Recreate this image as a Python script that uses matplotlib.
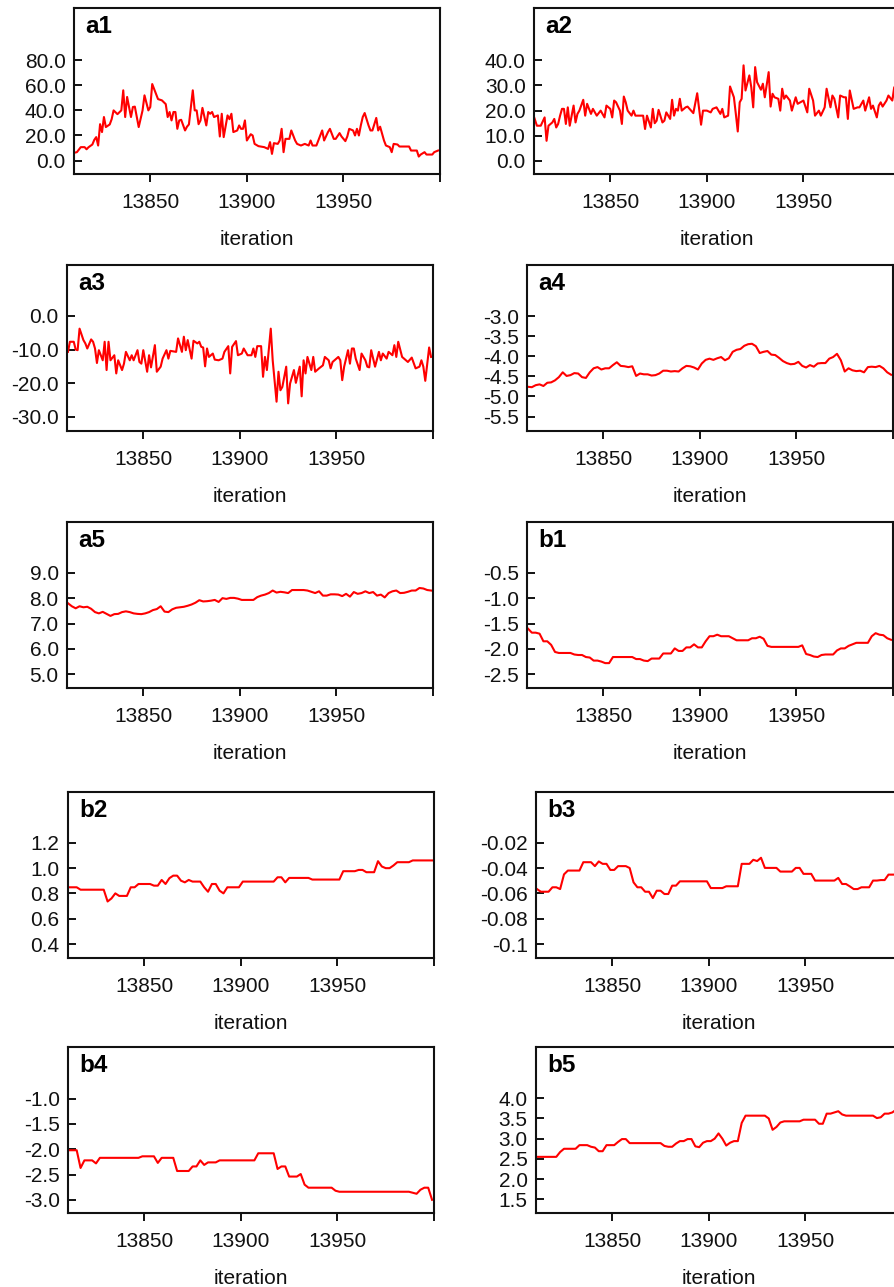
import numpy as np
import matplotlib
matplotlib.use("Agg")
import matplotlib.pyplot as plt

plt.rcParams["font.family"] = ["Liberation Sans", "DejaVu Sans"]

# noisy traces (a1-a3): iteration and value pairs
a1_it = [13810, 13812, 13814, 13816, 13817, 13818, 13820, 13821, 13822, 13823,
         13824, 13825, 13826, 13827, 13829, 13830, 13831, 13833, 13835, 13836,
         13837, 13838, 13840, 13841, 13842, 13844, 13846, 13847, 13849, 13850,
         13851, 13853, 13854, 13856, 13858, 13859, 13860, 13861, 13862, 13863,
         13864, 13865, 13866, 13868, 13869, 13870, 13872, 13873, 13874, 13875,
         13876, 13877, 13879, 13880, 13881, 13882, 13883, 13885, 13886, 13887,
         13888, 13890, 13891, 13892, 13893, 13895, 13896, 13897, 13898, 13899,
         13900, 13902, 13903, 13904, 13906, 13909, 13911, 13912, 13913, 13914,
         13916, 13917, 13918, 13919, 13920, 13922, 13923, 13925, 13926, 13928,
         13930, 13932, 13933, 13934, 13936, 13937, 13939, 13940, 13942, 13943,
         13945, 13946, 13948, 13949, 13951, 13952, 13953, 13955, 13956, 13957,
         13958, 13959, 13960, 13961, 13963, 13964, 13965, 13967, 13968, 13969,
         13971, 13972, 13974, 13975, 13976, 13978, 13979, 13984, 13985, 13988,
         13989, 13990, 13992, 13993, 13996, 13997, 13999]
a1 = [6, 6.7, 10.7, 10.7, 9, 10.6, 12.8, 16.5, 18.7, 12,
      29, 22.7, 34.7, 26.7, 28.8, 33, 40, 37, 40, 56,
      34.7, 50.7, 34.7, 42.7, 43, 26.7, 40, 52, 40, 42.7,
      61, 53, 49, 48, 45, 34.7, 38.7, 32, 38.7, 38.7,
      25.3, 32, 32.5, 24, 27, 28.8, 56, 40, 40, 29,
      32, 42, 28, 38.7, 37.3, 38.7, 34.7, 36, 19.2, 37.3,
      18.7, 36, 33, 37.3, 22.7, 24, 28, 25.3, 25.3, 32,
      16, 21, 20, 13.3, 11.5, 10.7, 9.3, 14.7, 5.3, 13.9,
      13.3, 16, 25.3, 6.7, 17.3, 17.3, 24, 16, 13.3, 12,
      13.3, 12, 16, 12, 12, 16, 24, 16, 22.7, 25.3,
      17.3, 17.3, 21.9, 19.2, 15.5, 19.2, 25.3, 24, 20, 25.3,
      20, 28, 34.7, 37.9, 28, 24, 24, 34, 24, 27,
      16, 12, 10.7, 6.7, 13.3, 12.8, 11.2, 11.2, 8, 8,
      3.2, 4.8, 6.7, 4.8, 4.8, 6.7, 8]

a2_it = [13810, 13812, 13814, 13816, 13817, 13818, 13820, 13821, 13822, 13823,
         13824, 13825, 13826, 13827, 13828, 13829, 13831, 13832, 13833, 13834,
         13836, 13837, 13838, 13840, 13841, 13843, 13845, 13847, 13848, 13850,
         13851, 13852, 13853, 13855, 13856, 13857, 13858, 13859, 13861, 13862,
         13863, 13865, 13867, 13868, 13869, 13871, 13872, 13873, 13874, 13875,
         13877, 13878, 13879, 13881, 13882, 13883, 13884, 13885, 13886, 13887,
         13889, 13890, 13893, 13895, 13897, 13898, 13900, 13902, 13903, 13905,
         13907, 13908, 13909, 13911, 13912, 13914, 13915, 13916, 13917, 13918,
         13919, 13920, 13922, 13923, 13924, 13925, 13926, 13928, 13929, 13930,
         13932, 13933, 13934, 13935, 13937, 13938, 13939, 13940, 13941, 13943,
         13944, 13946, 13947, 13950, 13952, 13953, 13955, 13956, 13958, 13959,
         13961, 13962, 13964, 13965, 13966, 13968, 13969, 13971, 13972, 13973,
         13974, 13976, 13978, 13979, 13981, 13982, 13984, 13985, 13986, 13988,
         13989, 13990, 13991, 13993, 13994, 13996, 13997, 13998]
a2 = [18.7, 14, 14, 17.3, 8, 14, 15.3, 16.7, 13.3, 14.7,
      18, 20.7, 20.7, 14.7, 21.3, 14, 22, 15.3, 18.7, 20,
      24.3, 18, 22.7, 18.7, 20.7, 18, 20, 17.3, 22, 20.7,
      17.3, 24, 23.3, 20, 14.7, 25.6, 23.3, 20, 18, 20,
      18, 18, 18, 12.7, 18, 13.3, 20.7, 15, 16, 20.3,
      15.3, 16, 19.3, 16.7, 24.3, 18, 20.7, 20, 24.7, 20,
      21.3, 21.6, 19, 26.9, 14.4, 20, 20, 19.3, 20.7, 21.3,
      18.7, 20.7, 17.3, 18, 29.6, 25.3, 18.7, 11.7, 23.3, 24.7,
      38, 28, 34, 29.3, 21.3, 37.3, 31.3, 28.3, 30.7, 25.3,
      35.3, 21.6, 26.7, 25.3, 24.7, 20, 28.7, 24.7, 26, 24,
      20, 25.3, 22.7, 24, 19.3, 28.7, 24, 18, 20, 18,
      21.3, 28.7, 21.3, 26, 24.7, 17.3, 26, 25.3, 25.3, 16.7,
      28, 20.7, 21.3, 21.3, 24, 20, 25.3, 20.7, 22, 17.3,
      22, 23.3, 21.6, 24, 26, 24, 29.3, 18]

a3_it = [13811, 13812, 13814, 13815, 13816, 13817, 13819, 13820, 13821, 13823,
         13824, 13825, 13826, 13827, 13829, 13830, 13831, 13832, 13833, 13835,
         13836, 13837, 13839, 13840, 13841, 13843, 13844, 13845, 13847, 13848,
         13849, 13850, 13852, 13853, 13854, 13856, 13857, 13859, 13860, 13862,
         13863, 13864, 13867, 13868, 13870, 13871, 13872, 13873, 13875, 13876,
         13878, 13879, 13880, 13881, 13882, 13883, 13884, 13886, 13887, 13889,
         13891, 13892, 13894, 13895, 13896, 13898, 13899, 13901, 13902, 13904,
         13906, 13907, 13908, 13909, 13911, 13912, 13913, 13914, 13916, 13917,
         13919, 13920, 13921, 13922, 13924, 13925, 13926, 13928, 13929, 13931,
         13932, 13933, 13934, 13935, 13937, 13938, 13939, 13941, 13943, 13944,
         13946, 13947, 13948, 13951, 13952, 13953, 13954, 13956, 13957, 13958,
         13959, 13960, 13962, 13963, 13965, 13966, 13967, 13968, 13970, 13972,
         13973, 13974, 13976, 13977, 13979, 13980, 13981, 13982, 13984, 13985,
         13987, 13989, 13991, 13993, 13994, 13995, 13996, 13998, 13999]
a3 = [-10.7, -7.7, -7.7, -10, -10.2, -3.8, -7.2, -8.2, -9.7, -7,
      -7.7, -9.7, -14, -10.2, -13.2, -7.7, -16.1, -7.7, -13.2, -11.7,
      -17.1, -13.2, -16.1, -14.2, -10.7, -13.2, -11.7, -13.2, -10.2, -13.7,
      -14.2, -10.2, -16.6, -11.7, -15.3, -8.7, -16.6, -15.1, -12.7, -10.2,
      -12.7, -10.4, -10.7, -6.7, -10.7, -6.2, -10.2, -7.2, -12.7, -7.4,
      -8.2, -7.7, -9.2, -9.4, -15, -9.7, -12.2, -11.2, -13, -13.2,
      -12.7, -10.7, -9, -17.1, -9.2, -7.5, -11.7, -11.2, -9.7, -11.7,
      -11.7, -9.7, -12.2, -9, -9, -18.1, -12.2, -16.1, -3.8, -13.2,
      -25.5, -16.6, -22.1, -21.1, -15.1, -26, -20.1, -16.1, -19.9, -15.1,
      -23.9, -13.2, -17.1, -12.2, -16.1, -12.2, -16.6, -15.6, -14.7, -12.2,
      -13.2, -15.6, -13.7, -12.2, -13.2, -19.1, -15.1, -10.2, -14.2, -9.7,
      -9.7, -12.7, -16.1, -11.2, -13.2, -15.1, -15.3, -10.2, -15.1, -10.7,
      -13.2, -11.2, -12.7, -10.7, -11.7, -8.7, -12.2, -7.7, -12.2, -12.7,
      -13.7, -12.4, -15.6, -15.1, -13.2, -15.1, -19.3, -9.4, -12.2]

# smoother traces: one value every second iteration, 13811 ... 13999
iteration = np.arange(13811, 14000, 2)

a4 = [-4.76, -4.77, -4.72, -4.70, -4.74, -4.66, -4.65, -4.60, -4.52, -4.40,
      -4.49, -4.47, -4.42, -4.43, -4.52, -4.54, -4.40, -4.30, -4.27, -4.33,
      -4.30, -4.30, -4.22, -4.15, -4.24, -4.25, -4.27, -4.25, -4.49, -4.43,
      -4.45, -4.45, -4.48, -4.47, -4.43, -4.36, -4.36, -4.38, -4.37, -4.38,
      -4.30, -4.24, -4.25, -4.28, -4.33, -4.18, -4.09, -4.06, -4.09, -4.05,
      -4.02, -4.10, -4.05, -3.89, -3.84, -3.82, -3.74, -3.70, -3.69, -3.75,
      -3.92, -3.89, -3.87, -3.96, -3.97, -4.04, -4.12, -4.17, -4.20, -4.19,
      -4.14, -4.24, -4.28, -4.22, -4.26, -4.18, -4.17, -4.17, -4.06, -4.02,
      -3.94, -4.10, -4.38, -4.30, -4.35, -4.37, -4.36, -4.40, -4.27, -4.26,
      -4.27, -4.24, -4.30, -4.40, -4.46]

a5 = [7.80, 7.68, 7.60, 7.68, 7.64, 7.66, 7.58, 7.45, 7.40, 7.46,
      7.38, 7.30, 7.37, 7.38, 7.45, 7.48, 7.45, 7.40, 7.38, 7.37,
      7.40, 7.45, 7.53, 7.57, 7.68, 7.47, 7.45, 7.56, 7.62, 7.64,
      7.66, 7.70, 7.75, 7.82, 7.92, 7.87, 7.88, 7.90, 7.93, 7.85,
      8.00, 7.97, 8.01, 8.01, 7.98, 7.93, 7.93, 7.93, 7.93, 8.04,
      8.10, 8.14, 8.20, 8.30, 8.22, 8.25, 8.23, 8.20, 8.32, 8.32,
      8.32, 8.32, 8.30, 8.25, 8.20, 8.27, 8.10, 8.10, 8.15, 8.15,
      8.14, 8.08, 8.17, 8.06, 8.24, 8.17, 8.20, 8.27, 8.20, 8.24,
      8.10, 8.14, 8.03, 8.20, 8.27, 8.30, 8.20, 8.21, 8.25, 8.30,
      8.30, 8.40, 8.38, 8.32, 8.30]

b1 = [-1.60, -1.68, -1.68, -1.70, -1.85, -1.85, -1.92, -2.06, -2.08, -2.08,
      -2.08, -2.08, -2.11, -2.12, -2.12, -2.16, -2.17, -2.23, -2.23, -2.25,
      -2.28, -2.28, -2.16, -2.16, -2.16, -2.16, -2.16, -2.16, -2.20, -2.20,
      -2.23, -2.24, -2.19, -2.19, -2.19, -2.09, -2.09, -2.09, -1.99, -2.04,
      -2.04, -1.97, -1.97, -1.91, -1.97, -1.97, -1.85, -1.75, -1.75, -1.72,
      -1.75, -1.75, -1.75, -1.79, -1.83, -1.83, -1.83, -1.83, -1.79, -1.79,
      -1.76, -1.80, -1.94, -1.96, -1.96, -1.96, -1.96, -1.96, -1.96, -1.96,
      -1.96, -1.93, -2.10, -2.12, -2.15, -2.16, -2.12, -2.11, -2.11, -2.11,
      -2.03, -1.99, -1.99, -1.94, -1.91, -1.88, -1.88, -1.88, -1.88, -1.75,
      -1.69, -1.72, -1.73, -1.79, -1.82]

b2 = [0.848, 0.848, 0.848, 0.829, 0.829, 0.829, 0.829, 0.829, 0.829, 0.829,
      0.736, 0.76, 0.80, 0.78, 0.78, 0.78, 0.848, 0.848, 0.874, 0.874,
      0.874, 0.874, 0.861, 0.861, 0.906, 0.874, 0.92, 0.94, 0.94, 0.90,
      0.887, 0.906, 0.893, 0.893, 0.893, 0.848, 0.813, 0.874, 0.874, 0.821,
      0.80, 0.848, 0.848, 0.848, 0.848, 0.893, 0.893, 0.893, 0.893, 0.893,
      0.893, 0.893, 0.893, 0.893, 0.927, 0.927, 0.887, 0.922, 0.922, 0.922,
      0.922, 0.922, 0.922, 0.909, 0.909, 0.909, 0.909, 0.909, 0.909, 0.909,
      0.909, 0.975, 0.975, 0.975, 0.975, 0.985, 0.985, 0.967, 0.967, 0.967,
      1.054, 1.012, 0.999, 0.999, 1.02, 1.046, 1.046, 1.046, 1.046, 1.06,
      1.06, 1.06, 1.06, 1.06, 1.06]

b3 = [-0.0566, -0.0587, -0.0587, -0.0587, -0.0552, -0.0552, -0.0566, -0.045, -0.042, -0.042,
      -0.042, -0.042, -0.0354, -0.0354, -0.0354, -0.0385, -0.0348, -0.0367, -0.0367, -0.0415,
      -0.0415, -0.0385, -0.0385, -0.0385, -0.040, -0.0513, -0.0552, -0.0552, -0.0587, -0.0587,
      -0.0637, -0.0579, -0.0579, -0.0605, -0.0605, -0.0539, -0.0539, -0.0505, -0.0505, -0.0505,
      -0.0505, -0.0505, -0.0505, -0.0505, -0.0505, -0.0558, -0.0558, -0.0558, -0.0558, -0.0544,
      -0.0544, -0.0544, -0.0544, -0.0367, -0.0367, -0.0367, -0.0335, -0.0345, -0.0319, -0.0399,
      -0.0399, -0.0399, -0.0399, -0.0428, -0.0428, -0.0428, -0.0428, -0.0399, -0.0399, -0.0446,
      -0.0446, -0.0446, -0.0499, -0.0499, -0.0499, -0.0499, -0.0499, -0.0499, -0.0478, -0.0526,
      -0.0526, -0.0545, -0.0566, -0.0566, -0.0552, -0.0552, -0.0552, -0.0499, -0.0499, -0.0495,
      -0.0495, -0.0452, -0.0452, -0.0452, -0.0452]

b4 = [-2.02, -2.02, -2.02, -2.37, -2.22, -2.22, -2.22, -2.28, -2.17, -2.17,
      -2.17, -2.17, -2.17, -2.17, -2.17, -2.17, -2.17, -2.17, -2.17, -2.14,
      -2.14, -2.14, -2.14, -2.27, -2.17, -2.17, -2.17, -2.17, -2.43, -2.43,
      -2.43, -2.43, -2.34, -2.34, -2.22, -2.31, -2.26, -2.26, -2.26, -2.22,
      -2.22, -2.22, -2.22, -2.22, -2.22, -2.22, -2.22, -2.22, -2.22, -2.08,
      -2.08, -2.08, -2.08, -2.08, -2.39, -2.34, -2.34, -2.54, -2.54, -2.54,
      -2.49, -2.70, -2.76, -2.76, -2.76, -2.76, -2.76, -2.76, -2.76, -2.82,
      -2.84, -2.84, -2.84, -2.84, -2.84, -2.84, -2.84, -2.84, -2.84, -2.84,
      -2.84, -2.84, -2.84, -2.84, -2.84, -2.84, -2.84, -2.84, -2.84, -2.86,
      -2.88, -2.80, -2.76, -2.76, -3.0]

b5 = [2.55, 2.55, 2.55, 2.55, 2.55, 2.55, 2.67, 2.75, 2.75, 2.75,
      2.75, 2.84, 2.84, 2.84, 2.80, 2.78, 2.69, 2.69, 2.84, 2.84,
      2.84, 2.92, 2.99, 2.99, 2.89, 2.89, 2.89, 2.89, 2.89, 2.89,
      2.89, 2.89, 2.89, 2.82, 2.80, 2.80, 2.88, 2.94, 2.94, 2.99,
      2.99, 2.81, 2.79, 2.90, 2.94, 2.94, 3.0, 3.13, 3.0, 2.83,
      2.90, 2.94, 2.94, 3.39, 3.57, 3.57, 3.57, 3.57, 3.57, 3.57,
      3.50, 3.22, 3.29, 3.40, 3.43, 3.43, 3.43, 3.43, 3.43, 3.47,
      3.47, 3.47, 3.47, 3.37, 3.37, 3.62, 3.62, 3.65, 3.68, 3.60,
      3.57, 3.57, 3.57, 3.57, 3.57, 3.57, 3.57, 3.57, 3.51, 3.53,
      3.62, 3.62, 3.65, 3.72, 3.75]

panel_names = ["a1", "a2", "a3", "a4", "a5", "b1", "b2", "b3", "b4", "b5"]
panel_x = [a1_it, a2_it, a3_it, iteration, iteration,
           iteration, iteration, iteration, iteration, iteration]
panel_y = [a1, a2, a3, a4, a5, b1, b2, b3, b4, b5]

ytick_values = [
    [0, 20, 40, 60, 80],
    [0, 10, 20, 30, 40],
    [-30, -20, -10, 0],
    [-5.5, -5.0, -4.5, -4.0, -3.5, -3.0],
    [5, 6, 7, 8, 9],
    [-2.5, -2.0, -1.5, -1.0, -0.5],
    [0.4, 0.6, 0.8, 1.0, 1.2],
    [-0.1, -0.08, -0.06, -0.04, -0.02],
    [-3.0, -2.5, -2.0, -1.5, -1.0],
    [1.5, 2.0, 2.5, 3.0, 3.5, 4.0],
]
ytick_labels = [
    ["0.0", "20.0", "40.0", "60.0", "80.0"],
    ["0.0", "10.0", "20.0", "30.0", "40.0"],
    ["-30.0", "-20.0", "-10.0", "0.0"],
    ["-5.5", "-5.0", "-4.5", "-4.0", "-3.5", "-3.0"],
    ["5.0", "6.0", "7.0", "8.0", "9.0"],
    ["-2.5", "-2.0", "-1.5", "-1.0", "-0.5"],
    ["0.4", "0.6", "0.8", "1.0", "1.2"],
    ["-0.1", "-0.08", "-0.06", "-0.04", "-0.02"],
    ["-3.0", "-2.5", "-2.0", "-1.5", "-1.0"],
    ["1.5", "2.0", "2.5", "3.0", "3.5", "4.0"],
]
xtick_values = [13850, 13900, 13950, 14000]
xtick_labels = ["13850", "13900", "13950", ""]

# layout (pixels): axes left / top edge, and y range of each panel
W, H = 895, 1287
AX_W, AX_H = 366, 166
ax_left = [74, 534, 67, 527, 67, 527, 68, 536, 68, 536]
ax_top = [8, 8, 265, 265, 522, 522, 792, 792, 1047, 1047]
ylims = [(-10.7, 121.6), (-5.2, 60.8), (-34.2, 15.1), (-5.86, -1.73),
         (4.46, 11.0), (-2.77, 0.5), (0.29, 1.60), (-0.111, 0.020),
         (-3.26, 0.02), (1.16, 5.27)]
INK = "#111111"


def draw_panel(fig, i):
    rect = [ax_left[i] / W, 1 - (ax_top[i] + AX_H) / H, AX_W / W, AX_H / H]
    ax = fig.add_axes(rect)
    ax.plot(panel_x[i], panel_y[i], color="#ff0000", lw=1.5)
    ax.set_xlim(13810.5, 14000)
    ax.set_ylim(*ylims[i])
    ax.set_xticks(xtick_values, xtick_labels)
    ax.set_yticks(ytick_values[i], ytick_labels[i])
    ax.tick_params(axis="x", direction="out", length=6, width=1.4,
                   pad=7.5, labelsize=15, colors=INK)
    ax.tick_params(axis="y", direction="in", length=6, width=1.4,
                   pad=6, labelsize=15, colors=INK)
    for s in ax.spines.values():
        s.set_linewidth(1.5)
        s.set_color(INK)
    ax.set_xlabel("iteration", fontsize=15, labelpad=13, color=INK)
    ax.text(11 / AX_W, 1 - 7 / AX_H, panel_names[i], transform=ax.transAxes,
            fontsize=17.5, fontweight="bold", va="top", ha="left")
    return ax


def main():
    fig = plt.figure(figsize=(W / 100, H / 100), dpi=100)
    for i in range(len(panel_names)):
        draw_panel(fig, i)
    fig.savefig("out.png", dpi=100)


if __name__ == "__main__":
    main()
